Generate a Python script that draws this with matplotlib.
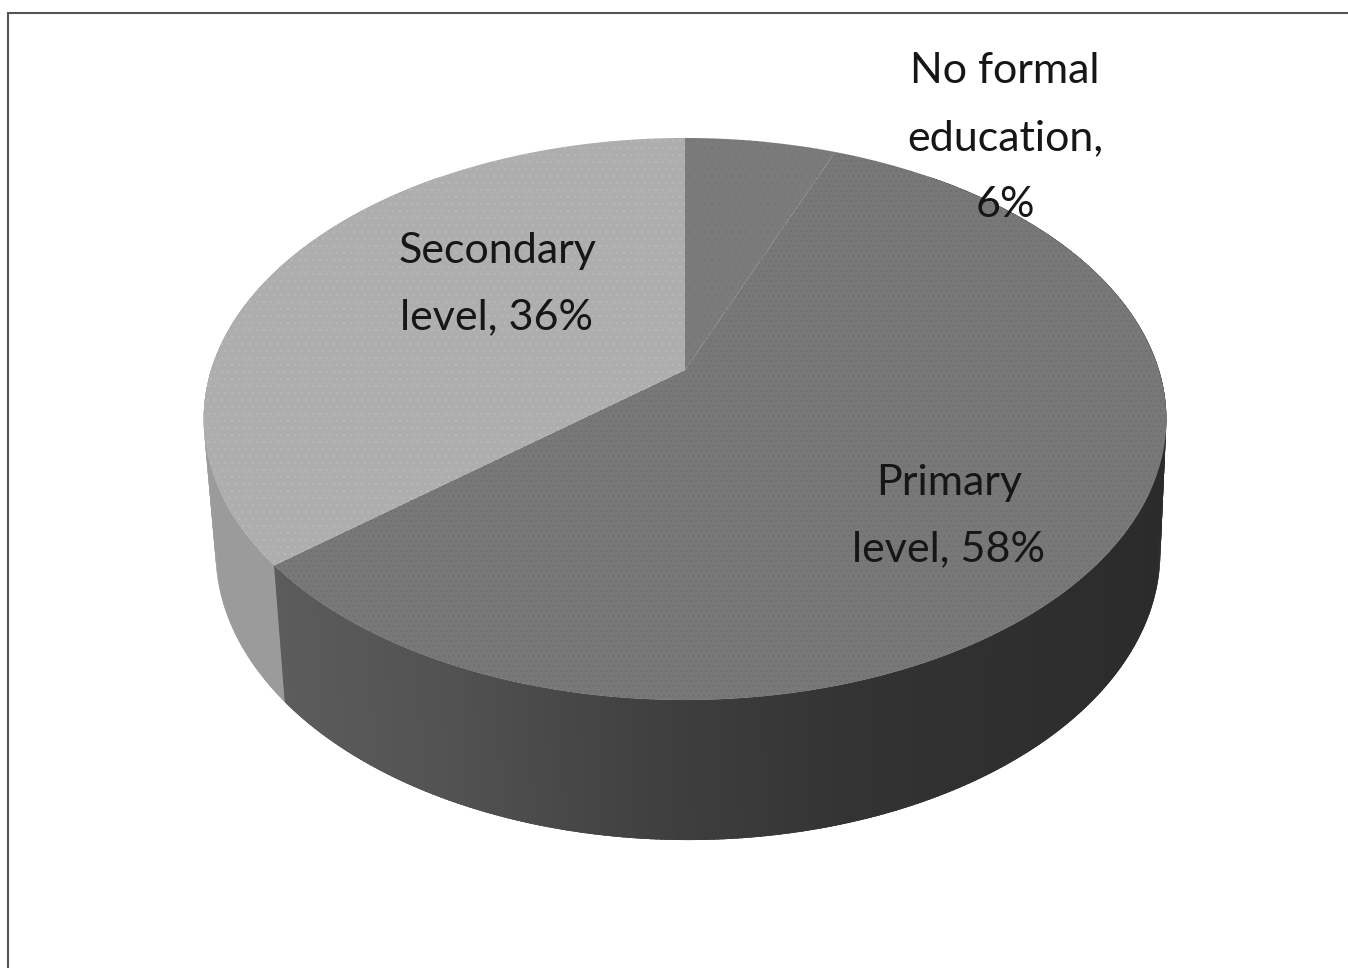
import numpy as np
import matplotlib
matplotlib.use("Agg")
import matplotlib.pyplot as plt
from matplotlib.patches import Polygon, Rectangle

labels = ["No formal\neducation,\n6%", "Primary\nlevel, 58%", "Secondary\nlevel, 36%"]
values = [6, 58, 36]
top_colors = ["#7b7b7b", "#787878", "#aeaeae"]
dot_colors = ["#747474", "#6e6e6e", "#bcbcbc"]
wall_x = [282, 450, 650, 850, 1160]
wall_g = [0x5c, 0x52, 0x40, 0x33, 0x2b]
wall_gray = 0x9b

W, H = 1348, 968
fig = plt.figure(figsize=(W/100, H/100), dpi=100)
ax = fig.add_axes([0, 0, 1, 1])
ax.set_xlim(0, W); ax.set_ylim(H, 0); ax.axis("off")
ax.add_patch(Rectangle((8, 13), 1400, 1000, fc="white", ec="#555555", lw=1.5, zorder=0))

# top face: a circle seen in perspective
cx, cy0, A, B, k = 685, 370, 474, 272.5, 0.1744
def top_pt(t):
    d = 1 + k*np.cos(t)
    return np.c_[cx + A*np.sin(t)/d, cy0 - B*np.cos(t)/d]

# rim points are carried to the base ellipse through their ellipse parameters
ex, ey, erx, ery = 685, 419, 481, 281
bx, by, brx, bry = 688, 552, 472, 288
def base_pt(p):
    sn = (p[:, 0]-ex)/erx
    cs = (p[:, 1]-ey)/ery
    return np.c_[bx + brx*sn, by + bry*cs]

cum = np.cumsum([0] + values) / sum(values) * 2*np.pi

def pattern(color, step):
    img = np.zeros((H, W, 4))
    img[..., :3] = matplotlib.colors.to_rgb(color)
    yy, xx = np.mgrid[0:H, 0:W]
    row = yy // step
    mask = ((xx + (row % 2)*step//2) % step < 2) & (yy % step < 2)
    img[..., 3] = mask * 0.75
    return img

def strip(a, b, shade):
    seg = np.array([a, b])
    p = top_pt(seg)
    q = base_pt(p)
    g = shade(q[:, 0].mean())
    ax.add_patch(Polygon(np.vstack([p, q[::-1]]), fc=(g/255,)*3, ec="none", zorder=1,
                         antialiased=True))

# wall of the secondary slice, from the far left round to the slice edge
ts = np.linspace(1.8*np.pi, cum[2], 120)
for a, b in zip(ts[:-1], ts[1:]):
    strip(a, b - 0.012 if b - 0.012 > cum[2] else cum[2], lambda x: wall_gray)

# wall of the primary slice, painted from the far right to the left with overlap
ts = np.linspace(0.2*np.pi, cum[2], 400)
for a, b in zip(ts[:-1], ts[1:]):
    strip(a, min(b + 0.012, cum[2]), lambda x: np.interp(x, wall_x, wall_g))

# top slices with a fine dot screen
steps = [7, 5, 7]
for i in range(3):
    t = np.linspace(cum[i], cum[i+1], 200)
    poly = Polygon(np.vstack([[cx, cy0], top_pt(t)]), fc=top_colors[i], ec="none", zorder=2)
    ax.add_patch(poly)
    im = ax.imshow(pattern(dot_colors[i], steps[i]), extent=(0, W, H, 0), zorder=3,
                   interpolation="nearest", aspect="auto")
    im.set_clip_path(poly)
ax.set_xlim(0, W); ax.set_ylim(H, 0)

pos = [(1005, 138), (949, 516), (497, 284)]
for s, (x, y) in zip(labels, pos):
    ax.text(x, y, s, ha="center", va="center", fontsize=31, color="#161616",
            family="Lato", linespacing=1.92, zorder=5)

fig.savefig("out.png", dpi=100)
